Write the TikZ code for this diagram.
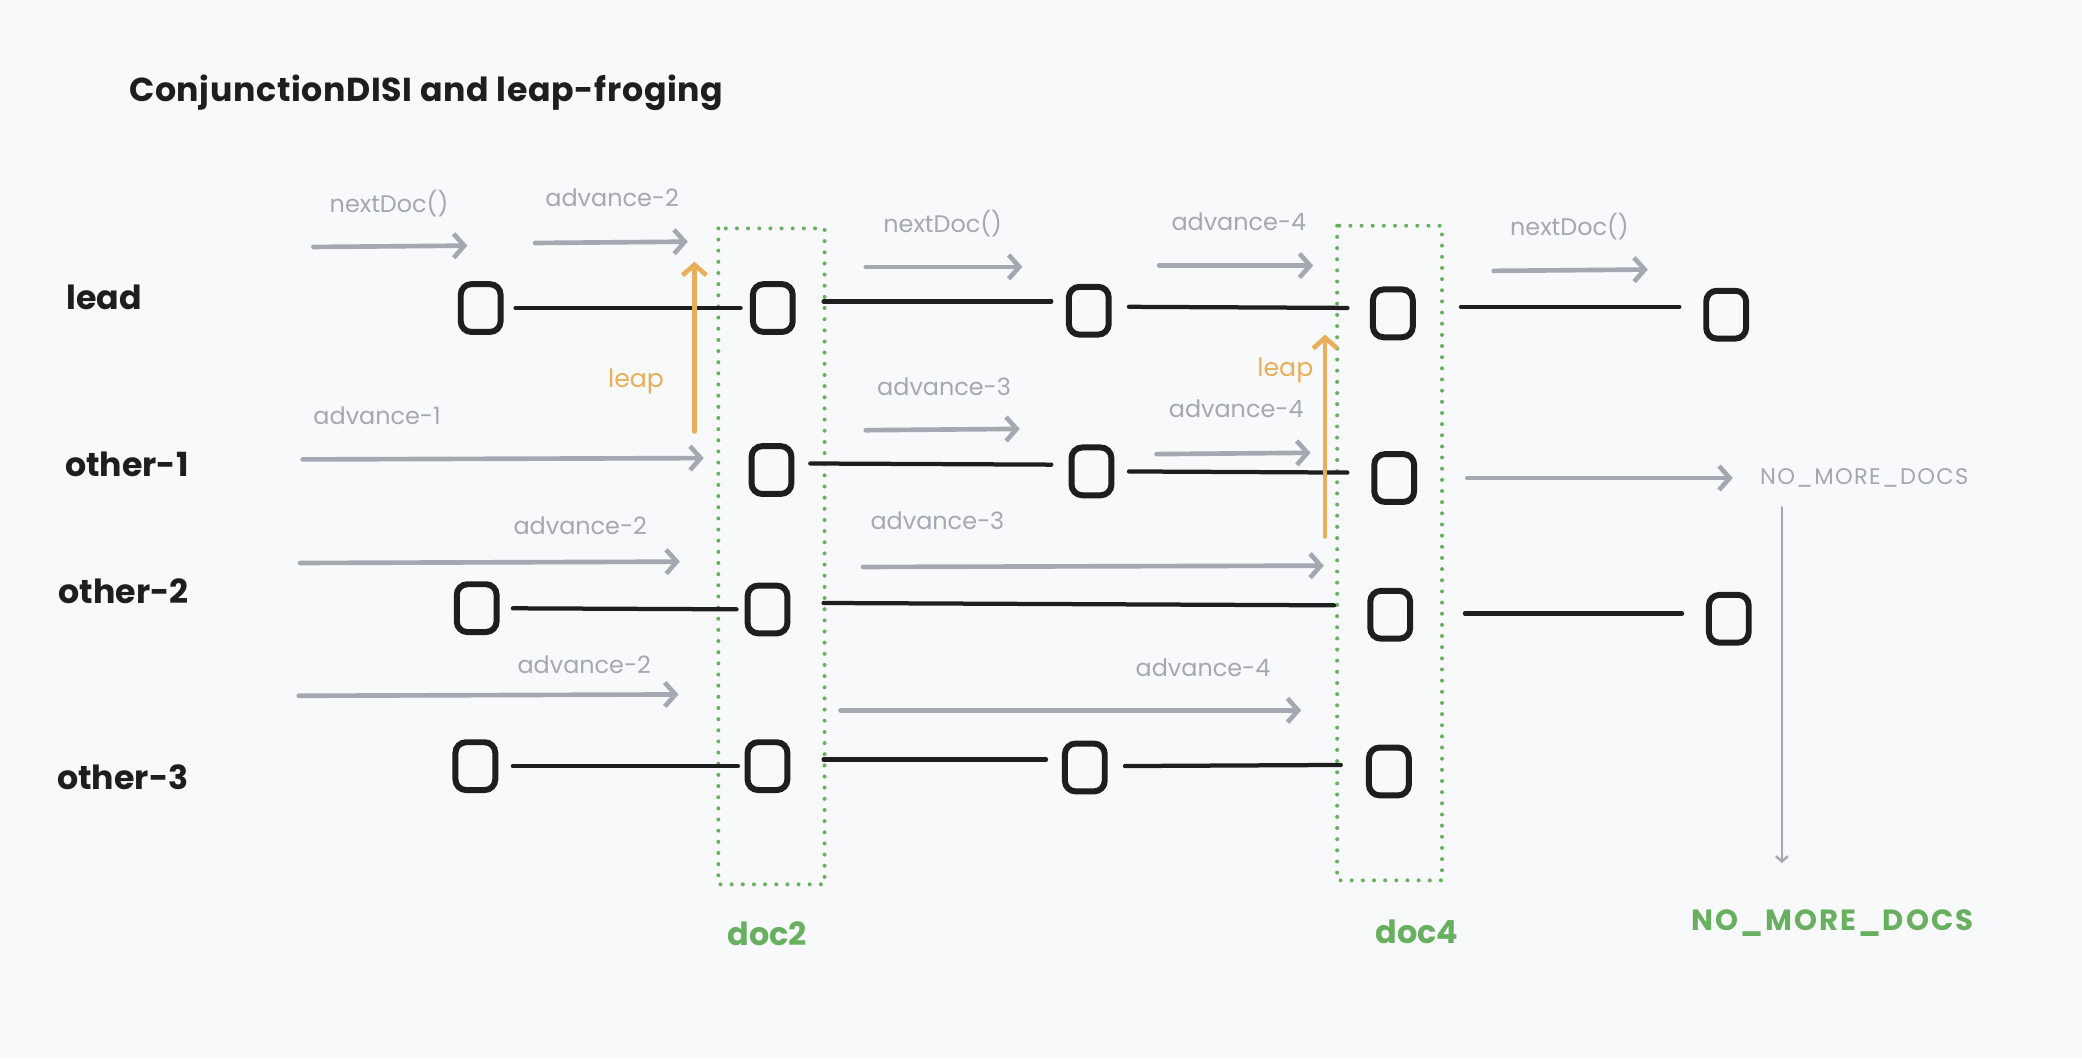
\documentclass[tikz,border=0pt]{standalone}
\usepackage{fontspec}
\setmainfont{Poppins}
\usetikzlibrary{arrows.meta}
\definecolor{bg}{HTML}{F8F9FB}
\definecolor{ink}{HTML}{1E1E1E}
\definecolor{gry}{HTML}{A3A8B1}
\definecolor{org}{HTML}{E9AE5A}
\definecolor{grn}{HTML}{68AF60}
\tikzset{
  docbox/.style={draw=ink, line width=4.5pt, rounded corners=8pt, minimum width=30pt, minimum height=36pt, inner sep=0pt},
  conn/.style={draw=ink, line width=3.2pt, line cap=round},
  garrow/.style={draw=gry, line width=3.5pt, line cap=round, -{Straight Barb[length=8pt,width=18pt,line width=3.5pt]}},
  oarrow/.style={draw=org, line width=3.5pt, line cap=round, -{Straight Barb[length=8pt,width=18pt,line width=3.5pt]}},
  thinarrow/.style={draw=gry, line width=1.8pt, line cap=round, -{Straight Barb[length=4pt,width=9pt,line width=1.8pt]}},
  glabel/.style={text=gry, font=\fontsize{18}{20}\selectfont, inner sep=0pt},
  rowlabel/.style={text=ink, font=\bfseries\fontsize{25}{28}\selectfont, inner sep=0pt, anchor=west},
  olabel/.style={text=org, font=\fontsize{19}{20}\selectfont, inner sep=0pt},
  doclabel/.style={text=grn, font=\bfseries\fontsize{24}{28}\selectfont, inner sep=0pt},
  dotbox/.style={draw=grn, line width=3pt, line cap=round, dash pattern=on 0pt off 8.4pt},
}
\begin{document}
\begin{tikzpicture}[x=1pt,y=-1pt]
\fill[bg] (0,0) rectangle (1568,797);
\useasboundingbox (0,0) rectangle (1568,797);

% title
\node[text=ink, font=\bfseries\fontsize{25}{30}\selectfont\addfontfeature{LetterSpace=2}, inner sep=0pt, anchor=west] (title) at (97,70) {ConjunctionDISI and leap-froging};

% row labels
\node[rowlabel] (rlead) at (50,224) {lead};
\node[rowlabel] (rone) at (49,350) {other-1};
\node[rowlabel] (rtwo) at (44,445) {other-2};
\node[rowlabel] (rthree) at (43,585) {other-3};

% green dotted doc columns
\draw[dotbox] (541,172) rectangle (621,666);
\draw[dotbox] (1007,170) rectangle (1086,663);
\node[doclabel] (doctwo) at (578,703) {doc2};
\node[doclabel] (docfour) at (1067,702) {doc4};

% boxes
\node[docbox] (l1) at (362,232) {};
\node[docbox] (l2) at (582,232) {};
\node[docbox] (l3) at (820,234) {};
\node[docbox] (l4) at (1049,236) {};
\node[docbox] (l5) at (1300,237) {};
\node[docbox] (a2) at (581,354) {};
\node[docbox] (a3) at (822,355) {};
\node[docbox] (a4) at (1050,360) {};
\node[docbox] (b1) at (359,458) {};
\node[docbox] (b2) at (578,459) {};
\node[docbox] (b4) at (1047,463) {};
\node[docbox] (b5) at (1302,466) {};
\node[docbox] (c1) at (358,577) {};
\node[docbox] (c2) at (578,577) {};
\node[docbox] (c3) at (817,578) {};
\node[docbox] (c4) at (1046,581) {};

% black connectors
\draw[conn, shorten <=9pt, shorten >=7pt] (l1) -- (l2);
\draw[conn, shorten <=21pt, shorten >=11pt] ([yshift=5pt]l2.east) -- ([yshift=7pt]l3.west);
\draw[conn, shorten <=13pt, shorten >=17pt] ([yshift=3pt]l3.east) -- ([yshift=4pt]l4.west);
\draw[conn, shorten <=34pt, shorten >=18pt] ([yshift=5pt]l4.east) -- ([yshift=6pt]l5.west);
\draw[conn, shorten <=12pt, shorten >=13pt] ([yshift=5pt]a2.east) -- ([yshift=5pt]a3.west);
\draw[conn, shorten <=11pt, shorten >=18pt] (a3.east) -- ([yshift=4pt]a4.west);
\draw[conn, shorten <=10pt, shorten >=6pt] (b1) -- (b2);
\draw[conn, shorten <=25pt, shorten >=25pt] ([yshift=5pt]b2.east) -- ([yshift=7pt]b4.west);
\draw[conn, shorten <=39pt, shorten >=18pt] ([yshift=1pt]b4.east) -- ([yshift=4pt]b5.west);
\draw[conn, shorten <=11pt, shorten >=5pt] (c1) -- (c2);
\draw[conn, shorten <=25pt, shorten >=12pt] ([yshift=5pt]c2.east) -- ([yshift=6pt]c3.west);
\draw[conn, shorten <=13pt, shorten >=19pt] ([yshift=1pt]c3.east) -- ([yshift=5pt]c4.west);

% gray step arrows and labels
\coordinate (g1s) at (236,186); \coordinate (g1e) at (352,185);
\coordinate (g2s) at (403,183); \coordinate (g2e) at (518,182);
\coordinate (g3s) at (652,201); \coordinate (g3e) at (770,201);
\coordinate (g4s) at (873,200); \coordinate (g4e) at (989,200);
\coordinate (g5s) at (1125,204); \coordinate (g5e) at (1241,203);
\coordinate (g6s) at (228,346); \coordinate (g6e) at (530,345);
\coordinate (g7s) at (652,324); \coordinate (g7e) at (768,323);
\coordinate (g8s) at (871,342); \coordinate (g8e) at (987,341);
\coordinate (g9s) at (1105,360); \coordinate (g9e) at (1305,360);
\coordinate (g10s) at (226,424); \coordinate (g10e) at (512,423);
\coordinate (g11s) at (650,427); \coordinate (g11e) at (997,426);
\coordinate (g12s) at (225,524); \coordinate (g12e) at (511,523);
\coordinate (g13s) at (633,535); \coordinate (g13e) at (980,535);
\foreach \i in {1,...,13} {\draw[garrow] (g\i s) -- (g\i e);}

\node[glabel] (t1) at (293,153) {nextDoc()};
\node[glabel] (t2) at (461,149) {advance-2};
\node[glabel] (t3) at (710,168) {nextDoc()};
\node[glabel] (t4) at (933,167) {advance-4};
\node[glabel] (t5) at (1182,171) {nextDoc()};
\node[glabel] (t6) at (284,313) {advance-1};
\node[glabel] (t7) at (711,291) {advance-3};
\node[glabel] (t8) at (931,308) {advance-4};
\node[glabel] (t10) at (437,396) {advance-2};
\node[glabel] (t11) at (706,392) {advance-3};
\node[glabel] (t12) at (440,501) {advance-2};
\node[glabel] (t13) at (906,503) {advance-4};
\node[text=gry, font=\fontsize{17}{20}\selectfont\addfontfeature{LetterSpace=6}, inner sep=0pt] (nmd) at (1404,360) {NO\_MORE\_DOCS};

% final NO_MORE_DOCS
\node[text=grn, font=\bfseries\fontsize{22}{26}\selectfont\addfontfeature{LetterSpace=7}, inner sep=0pt] (nmdg) at (1380,695) {NO\_MORE\_DOCS};
\coordinate (vs) at (1342,382);
\coordinate (ve) at (1342,650);
\draw[thinarrow] (vs) -- (ve);

% leap arrows
\coordinate (o1s) at (523,325); \coordinate (o1e) at (523,197);
\coordinate (o2s) at (998,404); \coordinate (o2e) at (998,252);
\draw[oarrow] (o1s) -- (o1e);
\draw[oarrow] (o2s) -- (o2e);
\node[olabel] (leapone) at (479,287) {leap};
\node[olabel] (leaptwo) at (968,279) {leap};
\end{tikzpicture}
\end{document}
